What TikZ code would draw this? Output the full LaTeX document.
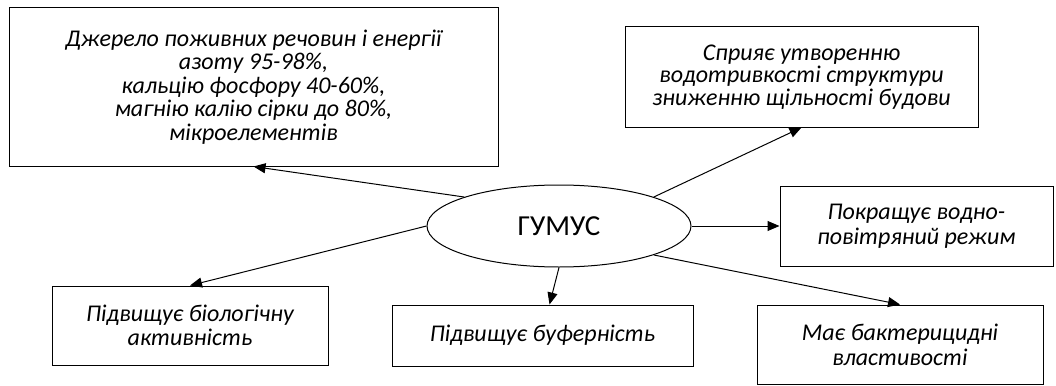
\documentclass[tikz,border=0pt]{standalone}
\usepackage{fontspec}
\setmainfont{Carlito}
\usetikzlibrary{shapes.geometric,arrows.meta}
\tikzset{
  infobox/.style={draw, line width=1pt, rectangle, align=center, inner sep=0pt,
    font=\fontsize{24}{23.5}\selectfont\itshape},
  hub/.style={draw, line width=1pt, ellipse, inner sep=0pt, minimum width=264pt, minimum height=82pt,
    font=\fontsize{29}{31}\selectfont},
  link/.style={line width=1pt, -{Triangle[length=12pt,width=10pt]}}
}
\begin{document}
\begin{tikzpicture}[x=1pt,y=-1pt]
\useasboundingbox (0,0) rectangle (1056,385);
\node[hub] (g) at (559,226) {ГУМУС};
\node[infobox, minimum width=489pt, minimum height=158pt] (b1) at (253.5,87)
  {Джерело поживних речовин і енергії\\азоту 95-98\%,\\кальцію фосфору 40-60\%,\\магнію калію сірки до 80\%,\\мікроелементів};
\node[infobox, minimum width=353pt, minimum height=100pt, font=\fontsize{24}{22.5}\selectfont\itshape] (b2) at (801.5,77)
  {Сприяє утворенню\\водотривкості структури\\зниженню щільності будови};
\node[infobox, minimum width=273pt, minimum height=80pt, font=\fontsize{24}{25}\selectfont\itshape] (b3) at (916.5,226)
  {Покращує водно-\\повітряний режим};
\node[infobox, minimum width=276pt, minimum height=79pt] (b4) at (190,325.5)
  {Підвищує біологічну\\активність};
\node[infobox, minimum width=301pt, minimum height=61pt] (b5) at (542.5,335.5)
  {Підвищує буферність};
\node[infobox, minimum width=286pt, minimum height=79pt, font=\fontsize{24}{25}\selectfont\itshape] (b6) at (900,344.5)
  {Має бактерицидні\\властивості};
\draw[link] (g.163.4) -- (b1.south);
\draw[link] (g.17.1) -- (b2.south);
\draw[link] (g.0) -- (b3.west);
\draw[link] (g.180) -- (b4.north);
\draw[link] (g.270) -- ([xshift=7pt]b5.north);
\draw[link] (g.-17.1) -- (b6.north);
\end{tikzpicture}
\end{document}
